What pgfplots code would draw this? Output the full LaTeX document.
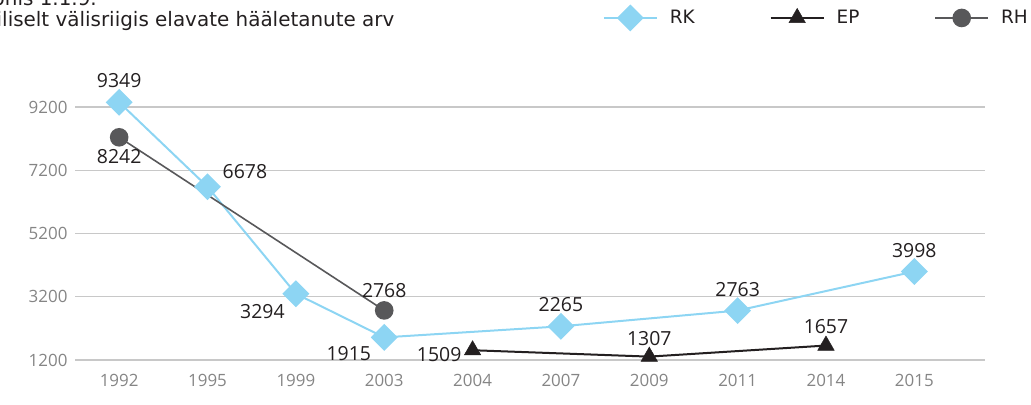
\documentclass[border=0pt]{standalone}
\usepackage{fontspec}
\setmainfont{Open Sans}
\newfontfamily\dejavu{DejaVu Sans}
\usepackage{pgfplots}
\pgfplotsset{compat=1.18}

\definecolor{rkBlue}{HTML}{8DD5F3}
\definecolor{epBlack}{HTML}{231F20}
\definecolor{rhGray}{HTML}{58585A}
\definecolor{gridGray}{HTML}{C8C8C8}
\definecolor{tickGray}{HTML}{858585}
\definecolor{txt}{HTML}{231F20}

\begin{document}
\begin{tikzpicture}[lbl/.style={font=\fontsize{19.5}{22}\selectfont, text=txt, inner sep=1bp}]
\begin{axis}[
  at={(75bp,45bp)}, anchor=south west,
  scale only axis, width=910bp, height=253bp,
  xmin=-0.5, xmax=9.8, ymin=1200, ymax=9200,
  clip=false,
  axis line style={draw=none},
  major tick length=0pt,
  xtick={0,...,9},
  xticklabels={1992,1995,1999,2003,2004,2007,2009,2011,2014,2015},
  ytick={1200,3200,5200,7200,9200},
  ymajorgrids, grid style={gridGray, line width=1.2bp},
  tick label style={font=\fontsize{17}{20}\selectfont, text=tickGray},
  xticklabel style={yshift=-11bp},
  yticklabel style={xshift=-4bp},
  /pgf/number format/1000 sep={},
  /pgf/number format/assume math mode=true,
  legend columns=3,
  legend style={draw=none, fill=none, at={(0.5765,1.352)}, anchor=west,
    font=\dejavu\fontsize{18.5}{22}\selectfont, text=txt,
    /tikz/every odd column/.append style={column sep=10bp},
    /tikz/every even column/.append style={column sep=73bp}},
  legend image code/.code={\draw[mark repeat=2, mark phase=2] plot coordinates {(0bp,0bp) (26.5bp,0bp) (53bp,0bp)};},
]
\addplot[rkBlue, line width=2bp, mark=square*, mark size=8.5bp, mark options={rotate=45, fill=rkBlue, draw=rkBlue}]
  coordinates {(0,9349) (1,6678) (2,3294) (3,1915) (5,2265) (7,2763) (9,3998)};
\addlegendentry{RK}
\addplot[epBlack, line width=2bp, mark=triangle*, mark size=9.5bp, mark options={fill=epBlack, line width=0.5bp}]
  coordinates {(4,1509) (6,1307) (8,1657)};
\addlegendentry{EP}
\addplot[rhGray, line width=1.6bp, mark=*, mark size=8.5bp, mark options={fill=rhGray, draw=rhGray}]
  coordinates {(0,8242) (3,2768)};
\addlegendentry{RH}

% data labels
\node[lbl, anchor=south] at (axis cs:0,9349) [yshift=13bp] {9349};
\node[lbl, anchor=south west] at (axis cs:1,6678) [xshift=14bp, yshift=7bp] {6678};
\node[lbl, anchor=north east] at (axis cs:2,3294) [xshift=-10bp, yshift=-9bp] {3294};
\node[lbl, anchor=north east] at (axis cs:3,1915) [xshift=-12bp, yshift=-8bp] {1915};
\node[lbl, anchor=south] at (axis cs:5,2265) [yshift=13bp] {2265};
\node[lbl, anchor=south] at (axis cs:7,2763) [yshift=13bp] {2763};
\node[lbl, anchor=south] at (axis cs:9,3998) [yshift=13bp] {3998};
\node[lbl, anchor=north] at (axis cs:0,8242) [yshift=-11bp] {8242};
\node[lbl, anchor=south] at (axis cs:3,2768) [yshift=12bp] {2768};
\node[lbl, anchor=east] at (axis cs:4,1509) [xshift=-10bp, yshift=-4bp] {1509};
\node[lbl, anchor=south] at (axis cs:6,1307) [yshift=10bp] {1307};
\node[lbl, anchor=south] at (axis cs:8,1657) [yshift=11bp] {1657};
\end{axis}

% cropped title
\node[anchor=base east, inner sep=0pt, font=\dejavu\fontsize{20}{22}\selectfont, text=txt] at (97bp,399bp) {Joonis 1.1.9.};
\node[anchor=base west, inner sep=0pt, font=\dejavu\fontsize{20}{22}\selectfont, text=txt] at (2bp,378bp) {\llap{Elektrooni}liselt välisriigis elavate hääletanute arv};

\pgfresetboundingbox
\path[use as bounding box] (0,0) rectangle (1031bp,405bp);
\end{tikzpicture}
\end{document}
